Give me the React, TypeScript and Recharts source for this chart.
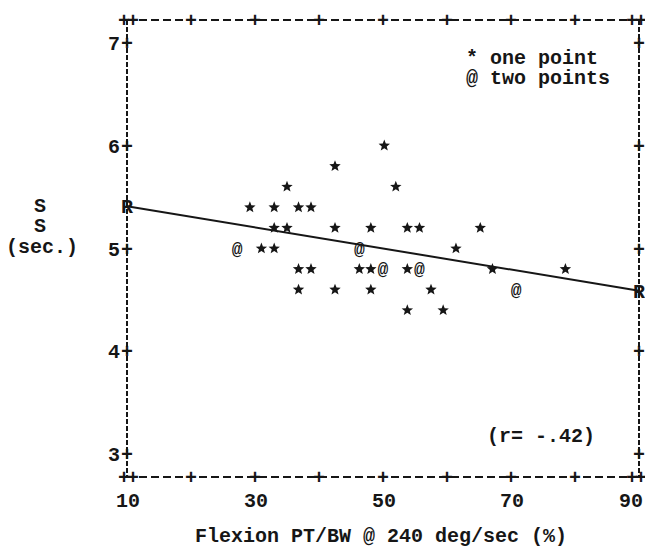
import React from 'react';
import { ScatterChart, Scatter, XAxis, YAxis } from 'recharts';

// axis ticks
const xTicks = [10, 20, 30, 40, 50, 60, 70, 80, 90];
const xLabels = [10, 30, 50, 70, 90];
const yTicks = [3, 4, 5, 6, 7];

// "*" = one point
const singleX = [50.2, 42.5, 35.0, 52.0, 29.2, 33.0, 36.8, 38.75, 33.0, 35.0, 42.5, 48.1, 53.8, 55.7, 65.2, 31.0, 33.0, 61.4, 36.8, 38.75, 46.3, 48.1, 53.8, 67.1, 78.5, 36.8, 42.5, 48.1, 57.5, 53.8, 59.4];
const singleY = [6.0, 5.8, 5.6, 5.6, 5.4, 5.4, 5.4, 5.4, 5.2, 5.2, 5.2, 5.2, 5.2, 5.2, 5.2, 5.0, 5.0, 5.0, 4.8, 4.8, 4.8, 4.8, 4.8, 4.8, 4.8, 4.6, 4.6, 4.6, 4.6, 4.4, 4.4];

// "@" = two points
const doubleX = [27.2, 46.3, 50.0, 55.7, 70.8];
const doubleY = [5.0, 5.0, 4.8, 4.8, 4.6];

// regression line, marked R at both ends
const fitX = [10, 90];
const fitY = [5.41, 4.59];

const singles = singleX.map((x, i) => ({ x, y: singleY[i] }));
const doubles = doubleX.map((x, i) => ({ x, y: doubleY[i] }));
const fit = fitX.map((x, i) => ({ x, y: fitY[i] }));

const font = '"Liberation Mono", "DejaVu Sans Mono", monospace';
const ink = '#161616';
const FS = 20;

const plus = (x: number, y: number, text = '+') => (
  <text
    x={x}
    y={y + 7}
    textAnchor="middle"
    fontFamily={font}
    fontSize={FS}
    fontWeight="bold"
    fill={ink}
    letterSpacing={text.length > 1 ? -3 : 0}
  >
    {text}
  </text>
);

const BottomTick = (props: any) => {
  const { x, y, payload } = props;
  const v = payload.value;
  return (
    <g>
      {v === 10 ? plus(x, y, '++') : v === 90 ? plus(x - 4, y, '++') : plus(x, y)}
      {xLabels.includes(v) && (
        <text x={v === 90 ? x - 8 : x + 1} y={y + 30} textAnchor="middle" fontFamily={font} fontSize={FS} fontWeight="bold" fill={ink}>
          {v}
        </text>
      )}
    </g>
  );
};

const TopTick = (props: any) => {
  const { x, y, payload } = props;
  const v = payload.value;
  if (v === 10) return plus(x, y, '++');
  if (v === 90) return plus(x - 4, y, '++');
  return plus(x, y);
};

const LeftTick = (props: any) => {
  const { x, y, payload } = props;
  return (
    <g>
      <text x={x - 7} y={y + 7} textAnchor="end" fontFamily={font} fontSize={FS} fontWeight="bold" fill={ink}>
        {payload.value}
      </text>
      {plus(x, y)}
    </g>
  );
};

const RightTick = (props: any) => {
  const { x, y } = props;
  return plus(x, y);
};

const Star = (props: any) => {
  const { cx, cy } = props;
  const pts: string[] = [];
  for (let i = 0; i < 10; i++) {
    const r = i % 2 === 0 ? 6 : 2.6;
    const a = -Math.PI / 2 + (i * Math.PI) / 5;
    pts.push(`${cx + r * Math.cos(a)},${cy + r * Math.sin(a)}`);
  }
  return <polygon points={pts.join(' ')} fill={ink} />;
};

const At = (props: any) => {
  const { cx, cy } = props;
  return (
    <text x={cx} y={cy + 6} textAnchor="middle" fontFamily={font} fontSize={18} fontWeight="bold" fill={ink}>
      @
    </text>
  );
};

const RMark = (props: any) => {
  const { cx, cy } = props;
  return (
    <text x={cx} y={cy + 7} textAnchor="middle" fontFamily={font} fontSize={FS} fontWeight="bold" fill={ink}>
      R
    </text>
  );
};

const label = (text: string, left: number, top: number) => (
  <div
    style={{
      position: 'absolute',
      left,
      top,
      fontFamily: font,
      fontSize: FS,
      fontWeight: 'bold',
      lineHeight: '18px',
      whiteSpace: 'pre',
      color: ink,
    }}
  >
    {text}
  </div>
);

const hLine = { stroke: ink, strokeWidth: 2, strokeDasharray: '8 4' };
const vLine = { stroke: ink, strokeWidth: 2, strokeDasharray: '5 2' };

export default function App() {
  return (
    <div style={{ position: 'absolute', left: 0, top: 0, width: 645, height: 548, background: '#fff' }}>
      <ScatterChart width={645} height={548} margin={{ top: 19, right: 5, bottom: 70, left: 126 }}>
        <XAxis
          xAxisId="b"
          dataKey="x"
          type="number"
          domain={[10, 90]}
          ticks={xTicks}
          height={1}
          tickSize={0}
          tickMargin={0}
          axisLine={hLine}
          tick={<BottomTick />}
          interval={0}
        />
        <XAxis
          xAxisId="t"
          orientation="top"
          dataKey="x"
          type="number"
          domain={[10, 90]}
          ticks={xTicks}
          height={1}
          tickSize={0}
          tickMargin={0}
          axisLine={hLine}
          tick={<TopTick />}
          interval={0}
        />
        <YAxis
          yAxisId="l"
          dataKey="y"
          type="number"
          domain={[2.78, 7.22]}
          ticks={yTicks}
          width={1}
          tickSize={0}
          tickMargin={0}
          axisLine={vLine}
          tick={<LeftTick />}
          interval={0}
        />
        <YAxis
          yAxisId="r"
          orientation="right"
          dataKey="y"
          type="number"
          domain={[2.78, 7.22]}
          ticks={yTicks}
          width={1}
          tickSize={0}
          tickMargin={0}
          axisLine={vLine}
          tick={<RightTick />}
          interval={0}
        />
        <Scatter data={fit} xAxisId="t" yAxisId="r" line={{ stroke: ink, strokeWidth: 2 }} shape={<RMark />} isAnimationActive={false} />
        <Scatter data={singles} xAxisId="b" yAxisId="l" shape={<Star />} isAnimationActive={false} />
        <Scatter data={doubles} xAxisId="b" yAxisId="l" shape={<At />} isAnimationActive={false} />
      </ScatterChart>

      {label('S', 34, 198)}
      {label('S', 34, 218)}
      {label('(sec.)', 6, 239)}
      {label('* one point', 466, 50)}
      {label('@ two points', 466, 70)}
      {label('(r= -.42)', 487, 428)}
      {label('Flexion PT/BW @ 240 deg/sec (%)', 195, 528)}
    </div>
  );
}
